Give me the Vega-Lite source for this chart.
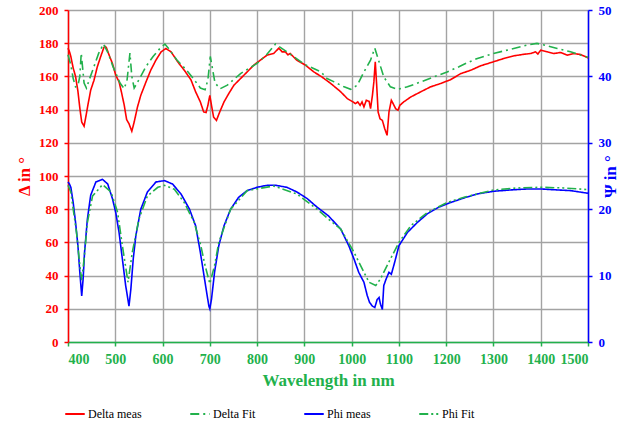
{
  "$schema": "https://vega.github.io/schema/vega-lite/v6.json",
  "width": 520,
  "height": 332,
  "autosize": "none",
  "padding": {"left": 68, "top": 10, "right": 55, "bottom": 83},
  "background": "white",
  "config": {
    "font": "Liberation Serif",
    "view": {"stroke": null},
    "axis": {"labelFont": "Liberation Serif", "titleFont": "Liberation Serif", "labelFontWeight": "bold", "titleFontWeight": "bold", "tickSize": 4, "domainWidth": 1.5, "tickWidth": 1.5, "gridColor": "#a3a3a3", "gridWidth": 1.4, "gridOpacity": 1}
  },
  "datasets": {
    "delta": [
      {"w":400,"v":177,"s":"Delta meas"},{"w":403,"v":175,"s":"Delta meas"},{"w":406,"v":172,"s":"Delta meas"},{"w":411,"v":165,"s":"Delta meas"},{"w":416,"v":160,"s":"Delta meas"},{"w":421,"v":151,"s":"Delta meas"},{"w":425,"v":141,"s":"Delta meas"},{"w":429,"v":132.5,"s":"Delta meas"},{"w":434,"v":130,"s":"Delta meas"},{"w":437,"v":134.5,"s":"Delta meas"},{"w":442,"v":142.6,"s":"Delta meas"},{"w":448,"v":151.7,"s":"Delta meas"},{"w":455,"v":157.7,"s":"Delta meas"},{"w":462,"v":165.8,"s":"Delta meas"},{"w":469,"v":171.8,"s":"Delta meas"},{"w":476,"v":177.5,"s":"Delta meas"},{"w":479,"v":178,"s":"Delta meas"},{"w":481,"v":177.5,"s":"Delta meas"},{"w":487,"v":172.8,"s":"Delta meas"},{"w":494,"v":167.8,"s":"Delta meas"},{"w":501,"v":160.7,"s":"Delta meas"},{"w":508,"v":156.7,"s":"Delta meas"},{"w":513,"v":150.6,"s":"Delta meas"},{"w":519,"v":142.6,"s":"Delta meas"},{"w":524,"v":134,"s":"Delta meas"},{"w":529,"v":131.5,"s":"Delta meas"},{"w":535,"v":127,"s":"Delta meas"},{"w":540,"v":132.5,"s":"Delta meas"},{"w":547,"v":141.6,"s":"Delta meas"},{"w":554,"v":148.6,"s":"Delta meas"},{"w":565,"v":156.7,"s":"Delta meas"},{"w":575,"v":163.7,"s":"Delta meas"},{"w":586,"v":169.8,"s":"Delta meas"},{"w":597,"v":174.8,"s":"Delta meas"},{"w":607,"v":176.8,"s":"Delta meas"},{"w":618,"v":174.8,"s":"Delta meas"},{"w":632,"v":168.8,"s":"Delta meas"},{"w":646,"v":163.7,"s":"Delta meas"},{"w":660,"v":158,"s":"Delta meas"},{"w":670,"v":150.7,"s":"Delta meas"},{"w":680,"v":144.6,"s":"Delta meas"},{"w":687,"v":138.6,"s":"Delta meas"},{"w":692,"v":138.2,"s":"Delta meas"},{"w":696,"v":142.6,"s":"Delta meas"},{"w":700,"v":148.6,"s":"Delta meas"},{"w":703.5,"v":142.6,"s":"Delta meas"},{"w":708,"v":135.5,"s":"Delta meas"},{"w":714,"v":133.5,"s":"Delta meas"},{"w":721,"v":138.6,"s":"Delta meas"},{"w":730,"v":144.6,"s":"Delta meas"},{"w":740,"v":149.6,"s":"Delta meas"},{"w":751,"v":154.7,"s":"Delta meas"},{"w":765,"v":158.7,"s":"Delta meas"},{"w":779,"v":162.7,"s":"Delta meas"},{"w":793,"v":166.8,"s":"Delta meas"},{"w":807,"v":169.8,"s":"Delta meas"},{"w":821,"v":172.8,"s":"Delta meas"},{"w":835,"v":173.8,"s":"Delta meas"},{"w":846,"v":177,"s":"Delta meas"},{"w":853,"v":174.8,"s":"Delta meas"},{"w":860,"v":174.8,"s":"Delta meas"},{"w":865,"v":173,"s":"Delta meas"},{"w":870,"v":173.8,"s":"Delta meas"},{"w":884,"v":169.8,"s":"Delta meas"},{"w":902,"v":166.8,"s":"Delta meas"},{"w":920,"v":162.7,"s":"Delta meas"},{"w":937,"v":159.7,"s":"Delta meas"},{"w":956,"v":155.7,"s":"Delta meas"},{"w":977,"v":150.7,"s":"Delta meas"},{"w":991,"v":146.6,"s":"Delta meas"},{"w":1003,"v":144.6,"s":"Delta meas"},{"w":1008,"v":143.6,"s":"Delta meas"},{"w":1013,"v":144.6,"s":"Delta meas"},{"w":1018,"v":142.6,"s":"Delta meas"},{"w":1022,"v":144.6,"s":"Delta meas"},{"w":1026,"v":141.6,"s":"Delta meas"},{"w":1031,"v":145.6,"s":"Delta meas"},{"w":1037,"v":145,"s":"Delta meas"},{"w":1040,"v":140.6,"s":"Delta meas"},{"w":1044,"v":148.6,"s":"Delta meas"},{"w":1047,"v":156.7,"s":"Delta meas"},{"w":1050,"v":168.8,"s":"Delta meas"},{"w":1053,"v":154.7,"s":"Delta meas"},{"w":1056,"v":138.6,"s":"Delta meas"},{"w":1060,"v":134.5,"s":"Delta meas"},{"w":1065,"v":133.5,"s":"Delta meas"},{"w":1070,"v":128.5,"s":"Delta meas"},{"w":1075,"v":124.5,"s":"Delta meas"},{"w":1079,"v":138.6,"s":"Delta meas"},{"w":1084,"v":145.6,"s":"Delta meas"},{"w":1088,"v":143.5,"s":"Delta meas"},{"w":1093,"v":140.6,"s":"Delta meas"},{"w":1098,"v":139.6,"s":"Delta meas"},{"w":1102,"v":142.6,"s":"Delta meas"},{"w":1110,"v":144.6,"s":"Delta meas"},{"w":1125,"v":147.6,"s":"Delta meas"},{"w":1146,"v":150.7,"s":"Delta meas"},{"w":1167,"v":153.7,"s":"Delta meas"},{"w":1188,"v":155.7,"s":"Delta meas"},{"w":1209,"v":158,"s":"Delta meas"},{"w":1231,"v":161.7,"s":"Delta meas"},{"w":1252,"v":163.7,"s":"Delta meas"},{"w":1273,"v":166.4,"s":"Delta meas"},{"w":1300,"v":168.8,"s":"Delta meas"},{"w":1322,"v":170.8,"s":"Delta meas"},{"w":1344,"v":172.4,"s":"Delta meas"},{"w":1361,"v":173.2,"s":"Delta meas"},{"w":1379,"v":173.8,"s":"Delta meas"},{"w":1389,"v":174.8,"s":"Delta meas"},{"w":1394,"v":173.5,"s":"Delta meas"},{"w":1400,"v":175.8,"s":"Delta meas"},{"w":1414,"v":174.8,"s":"Delta meas"},{"w":1428,"v":173.8,"s":"Delta meas"},{"w":1442,"v":174.4,"s":"Delta meas"},{"w":1456,"v":172.8,"s":"Delta meas"},{"w":1470,"v":173.8,"s":"Delta meas"},{"w":1484,"v":173.2,"s":"Delta meas"},{"w":1498,"v":171.5,"s":"Delta meas"},{"w":1500,"v":171,"s":"Delta meas"},
      {"w":400,"v":173,"s":"Delta Fit"},{"w":406,"v":166.8,"s":"Delta Fit"},{"w":411,"v":158.7,"s":"Delta Fit"},{"w":416,"v":153.7,"s":"Delta Fit"},{"w":421,"v":154.5,"s":"Delta Fit"},{"w":425,"v":160,"s":"Delta Fit"},{"w":428,"v":174,"s":"Delta Fit"},{"w":431,"v":165,"s":"Delta Fit"},{"w":434,"v":156,"s":"Delta Fit"},{"w":439,"v":153,"s":"Delta Fit"},{"w":445,"v":158,"s":"Delta Fit"},{"w":455,"v":166,"s":"Delta Fit"},{"w":465,"v":174,"s":"Delta Fit"},{"w":475,"v":179.5,"s":"Delta Fit"},{"w":485,"v":174,"s":"Delta Fit"},{"w":495,"v":166,"s":"Delta Fit"},{"w":500,"v":162.7,"s":"Delta Fit"},{"w":510,"v":156,"s":"Delta Fit"},{"w":519,"v":152.6,"s":"Delta Fit"},{"w":525,"v":158,"s":"Delta Fit"},{"w":531,"v":174,"s":"Delta Fit"},{"w":535,"v":160,"s":"Delta Fit"},{"w":540,"v":153,"s":"Delta Fit"},{"w":550,"v":158,"s":"Delta Fit"},{"w":565,"v":166,"s":"Delta Fit"},{"w":580,"v":172,"s":"Delta Fit"},{"w":595,"v":177,"s":"Delta Fit"},{"w":605,"v":179.5,"s":"Delta Fit"},{"w":615,"v":176,"s":"Delta Fit"},{"w":630,"v":170,"s":"Delta Fit"},{"w":650,"v":164,"s":"Delta Fit"},{"w":665,"v":158.7,"s":"Delta Fit"},{"w":680,"v":153,"s":"Delta Fit"},{"w":690,"v":152,"s":"Delta Fit"},{"w":696,"v":158,"s":"Delta Fit"},{"w":701,"v":172,"s":"Delta Fit"},{"w":706,"v":164,"s":"Delta Fit"},{"w":711,"v":156,"s":"Delta Fit"},{"w":722,"v":152.6,"s":"Delta Fit"},{"w":737,"v":154.7,"s":"Delta Fit"},{"w":765,"v":161.7,"s":"Delta Fit"},{"w":800,"v":167.8,"s":"Delta Fit"},{"w":820,"v":173,"s":"Delta Fit"},{"w":839,"v":179.5,"s":"Delta Fit"},{"w":863,"v":174.8,"s":"Delta Fit"},{"w":902,"v":167,"s":"Delta Fit"},{"w":935,"v":162.7,"s":"Delta Fit"},{"w":948,"v":158.7,"s":"Delta Fit"},{"w":963,"v":156.7,"s":"Delta Fit"},{"w":984,"v":153.7,"s":"Delta Fit"},{"w":998,"v":152.2,"s":"Delta Fit"},{"w":1012,"v":154.7,"s":"Delta Fit"},{"w":1026,"v":162.7,"s":"Delta Fit"},{"w":1040,"v":169.8,"s":"Delta Fit"},{"w":1049,"v":177,"s":"Delta Fit"},{"w":1058,"v":168.8,"s":"Delta Fit"},{"w":1068,"v":159.7,"s":"Delta Fit"},{"w":1082,"v":153.7,"s":"Delta Fit"},{"w":1098,"v":152.2,"s":"Delta Fit"},{"w":1118,"v":153.7,"s":"Delta Fit"},{"w":1146,"v":156.7,"s":"Delta Fit"},{"w":1174,"v":159.7,"s":"Delta Fit"},{"w":1202,"v":162.7,"s":"Delta Fit"},{"w":1227,"v":165.8,"s":"Delta Fit"},{"w":1245,"v":168.3,"s":"Delta Fit"},{"w":1266,"v":170.8,"s":"Delta Fit"},{"w":1300,"v":173.8,"s":"Delta Fit"},{"w":1337,"v":176.4,"s":"Delta Fit"},{"w":1372,"v":178.9,"s":"Delta Fit"},{"w":1392,"v":179.9,"s":"Delta Fit"},{"w":1407,"v":178.9,"s":"Delta Fit"},{"w":1435,"v":176.8,"s":"Delta Fit"},{"w":1463,"v":174.8,"s":"Delta Fit"},{"w":1495,"v":171.8,"s":"Delta Fit"},{"w":1500,"v":171.5,"s":"Delta Fit"}
    ],
    "psi": [
      {"w":400,"v":24.1,"s":"Phi meas"},{"w":403,"v":23.8,"s":"Phi meas"},{"w":406,"v":23.3,"s":"Phi meas"},{"w":411,"v":21,"s":"Phi meas"},{"w":416,"v":18,"s":"Phi meas"},{"w":421,"v":14.5,"s":"Phi meas"},{"w":425,"v":10.5,"s":"Phi meas"},{"w":429,"v":6.95,"s":"Phi meas"},{"w":432,"v":9.5,"s":"Phi meas"},{"w":435,"v":13.5,"s":"Phi meas"},{"w":441,"v":18.5,"s":"Phi meas"},{"w":448,"v":22.1,"s":"Phi meas"},{"w":459,"v":24.1,"s":"Phi meas"},{"w":473,"v":24.5,"s":"Phi meas"},{"w":484,"v":23.8,"s":"Phi meas"},{"w":494,"v":21.6,"s":"Phi meas"},{"w":501,"v":19.5,"s":"Phi meas"},{"w":508,"v":16.5,"s":"Phi meas"},{"w":515,"v":12.5,"s":"Phi meas"},{"w":522,"v":8.5,"s":"Phi meas"},{"w":529,"v":5.4,"s":"Phi meas"},{"w":533,"v":8,"s":"Phi meas"},{"w":538,"v":12.5,"s":"Phi meas"},{"w":543.5,"v":16,"s":"Phi meas"},{"w":554,"v":20,"s":"Phi meas"},{"w":568,"v":22.6,"s":"Phi meas"},{"w":586,"v":24.1,"s":"Phi meas"},{"w":604,"v":24.3,"s":"Phi meas"},{"w":621,"v":23.8,"s":"Phi meas"},{"w":639,"v":22.3,"s":"Phi meas"},{"w":657,"v":20,"s":"Phi meas"},{"w":670,"v":17.5,"s":"Phi meas"},{"w":680,"v":13.5,"s":"Phi meas"},{"w":691,"v":8.5,"s":"Phi meas"},{"w":698,"v":5.4,"s":"Phi meas"},{"w":700,"v":5.0,"s":"Phi meas"},{"w":703.5,"v":6.4,"s":"Phi meas"},{"w":710,"v":10.5,"s":"Phi meas"},{"w":719,"v":14.5,"s":"Phi meas"},{"w":730,"v":17.5,"s":"Phi meas"},{"w":744,"v":20,"s":"Phi meas"},{"w":761,"v":21.8,"s":"Phi meas"},{"w":779,"v":22.8,"s":"Phi meas"},{"w":800,"v":23.3,"s":"Phi meas"},{"w":821,"v":23.6,"s":"Phi meas"},{"w":839,"v":23.6,"s":"Phi meas"},{"w":863,"v":23.3,"s":"Phi meas"},{"w":884,"v":22.6,"s":"Phi meas"},{"w":906,"v":21.6,"s":"Phi meas"},{"w":927,"v":20.3,"s":"Phi meas"},{"w":951,"v":19,"s":"Phi meas"},{"w":977,"v":17,"s":"Phi meas"},{"w":994,"v":14.5,"s":"Phi meas"},{"w":1005,"v":12.5,"s":"Phi meas"},{"w":1015,"v":10.5,"s":"Phi meas"},{"w":1026,"v":9,"s":"Phi meas"},{"w":1033,"v":7,"s":"Phi meas"},{"w":1038,"v":5.95,"s":"Phi meas"},{"w":1044,"v":5.4,"s":"Phi meas"},{"w":1049,"v":5.2,"s":"Phi meas"},{"w":1054,"v":6.4,"s":"Phi meas"},{"w":1058,"v":6.7,"s":"Phi meas"},{"w":1061,"v":5.7,"s":"Phi meas"},{"w":1065,"v":4.9,"s":"Phi meas"},{"w":1068,"v":8.5,"s":"Phi meas"},{"w":1073,"v":9.5,"s":"Phi meas"},{"w":1079,"v":10.5,"s":"Phi meas"},{"w":1084,"v":10.2,"s":"Phi meas"},{"w":1091,"v":12,"s":"Phi meas"},{"w":1100,"v":14.5,"s":"Phi meas"},{"w":1118,"v":16.5,"s":"Phi meas"},{"w":1139,"v":18,"s":"Phi meas"},{"w":1160,"v":19.3,"s":"Phi meas"},{"w":1184,"v":20.3,"s":"Phi meas"},{"w":1209,"v":21,"s":"Phi meas"},{"w":1238,"v":21.7,"s":"Phi meas"},{"w":1266,"v":22.3,"s":"Phi meas"},{"w":1300,"v":22.7,"s":"Phi meas"},{"w":1337,"v":22.9,"s":"Phi meas"},{"w":1372,"v":23.05,"s":"Phi meas"},{"w":1400,"v":23.05,"s":"Phi meas"},{"w":1435,"v":22.9,"s":"Phi meas"},{"w":1463,"v":22.8,"s":"Phi meas"},{"w":1500,"v":22.4,"s":"Phi meas"},
      {"w":400,"v":23.6,"s":"Phi Fit"},{"w":406,"v":22.6,"s":"Phi Fit"},{"w":411,"v":20,"s":"Phi Fit"},{"w":418,"v":16.5,"s":"Phi Fit"},{"w":425,"v":11.5,"s":"Phi Fit"},{"w":429,"v":9.3,"s":"Phi Fit"},{"w":434,"v":12.5,"s":"Phi Fit"},{"w":441,"v":18,"s":"Phi Fit"},{"w":452,"v":22,"s":"Phi Fit"},{"w":473,"v":23.7,"s":"Phi Fit"},{"w":491,"v":22.6,"s":"Phi Fit"},{"w":505,"v":19.5,"s":"Phi Fit"},{"w":515,"v":14.5,"s":"Phi Fit"},{"w":527,"v":9,"s":"Phi Fit"},{"w":536,"v":13.5,"s":"Phi Fit"},{"w":550,"v":18.5,"s":"Phi Fit"},{"w":568,"v":22,"s":"Phi Fit"},{"w":590,"v":23.3,"s":"Phi Fit"},{"w":604,"v":23.6,"s":"Phi Fit"},{"w":625,"v":23,"s":"Phi Fit"},{"w":646,"v":21,"s":"Phi Fit"},{"w":667,"v":18,"s":"Phi Fit"},{"w":681,"v":14.5,"s":"Phi Fit"},{"w":690,"v":11.5,"s":"Phi Fit"},{"w":700,"v":8.8,"s":"Phi Fit"},{"w":710,"v":11.5,"s":"Phi Fit"},{"w":719,"v":15,"s":"Phi Fit"},{"w":744,"v":20,"s":"Phi Fit"},{"w":779,"v":22.8,"s":"Phi Fit"},{"w":835,"v":23.5,"s":"Phi Fit"},{"w":884,"v":22.3,"s":"Phi Fit"},{"w":927,"v":20,"s":"Phi Fit"},{"w":951,"v":18.5,"s":"Phi Fit"},{"w":977,"v":17,"s":"Phi Fit"},{"w":1005,"v":13.5,"s":"Phi Fit"},{"w":1026,"v":10.5,"s":"Phi Fit"},{"w":1037,"v":9,"s":"Phi Fit"},{"w":1051,"v":8.5,"s":"Phi Fit"},{"w":1061,"v":9.5,"s":"Phi Fit"},{"w":1075,"v":11.5,"s":"Phi Fit"},{"w":1100,"v":15,"s":"Phi Fit"},{"w":1125,"v":17.5,"s":"Phi Fit"},{"w":1160,"v":19.5,"s":"Phi Fit"},{"w":1202,"v":21,"s":"Phi Fit"},{"w":1238,"v":21.8,"s":"Phi Fit"},{"w":1300,"v":22.9,"s":"Phi Fit"},{"w":1351,"v":23.2,"s":"Phi Fit"},{"w":1400,"v":23.3,"s":"Phi Fit"},{"w":1449,"v":23.2,"s":"Phi Fit"},{"w":1500,"v":22.95,"s":"Phi Fit"}
    ]
  },
  "encoding": {
    "x": {"field": "w", "type": "quantitative", "scale": {"domain": [400, 1500], "nice": false},
      "axis": {"title": "Wavelength in nm", "format": "d", "values": [400,500,600,700,800,900,1000,1100,1200,1300,1400,1500], "labelColor": "#22b14c", "titleColor": "#22b14c", "domainColor": "#22b14c", "tickColor": "#22b14c", "labelFontSize": 14, "titleFontSize": 17, "labelPadding": 6, "titlePadding": 6, "grid": true}},
    "color": {"field": "s", "type": "nominal", "scale": {"domain": ["Delta meas", "Delta Fit", "Phi meas", "Phi Fit"], "range": ["#ff0000", "#22b14c", "#0000ff", "#22b14c"]},
      "legend": {"title": null, "orient": "none", "legendX": -4, "legendY": 393, "direction": "horizontal", "columns": 4, "columnPadding": 43, "symbolType": "stroke", "symbolSize": 380, "symbolStrokeWidth": 2.2, "labelFont": "Liberation Serif", "labelFontSize": 12, "labelColor": "black", "labelOffset": 2}},
    "strokeDash": {"field": "s", "type": "nominal", "scale": {"domain": ["Delta meas", "Delta Fit", "Phi meas", "Phi Fit"], "range": [[1, 0], [9, 4, 2, 4], [1, 0], [9, 3, 2, 3, 2, 3]]}, "legend": {"title": null}}
  },
  "layer": [
    {
      "data": {"name": "delta"},
      "mark": {"type": "line", "strokeWidth": 1.6},
      "encoding": {
        "y": {"field": "v", "type": "quantitative", "scale": {"domain": [0, 200], "nice": false},
          "axis": {"title": "Δ in °", "orient": "left", "values": [0,20,40,60,80,100,120,140,160,180,200], "labelColor": "#ff0000", "titleColor": "#ff0000", "domainColor": "#ff0000", "tickColor": "#ff0000", "labelFontSize": 13, "titleFontSize": 17, "labelPadding": 6, "titlePadding": 5, "grid": true}}
      }
    },
    {
      "data": {"name": "psi"},
      "mark": {"type": "line", "strokeWidth": 1.6},
      "encoding": {
        "y": {"field": "v", "type": "quantitative", "scale": {"domain": [0, 50], "nice": false},
          "axis": {"title": "Ψ in °", "orient": "right", "titleAngle": 270, "titleBaseline": "bottom", "values": [0,10,20,30,40,50], "labelColor": "#0000ff", "titleColor": "#0000ff", "domainColor": "#0000ff", "tickColor": "#0000ff", "labelFontSize": 13, "titleFontSize": 17, "labelPadding": 6, "titlePadding": 8, "grid": false}}
      }
    }
  ],
  "resolve": {"scale": {"y": "independent"}}
}
